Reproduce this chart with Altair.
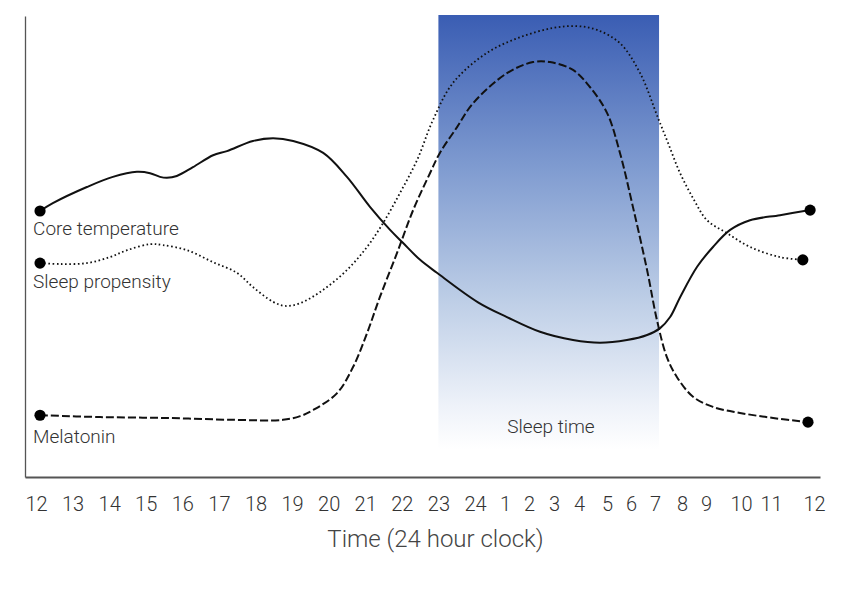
import altair as alt
import pandas as pd

# ---- data (hours since 12:00 noon, relative level 0-100) ----
core_hours = [0.11, 0.46, 1.39, 2.10, 2.76, 3.12, 3.39, 3.58, 3.85, 4.29, 4.84, 5.22, 5.93,
              6.48, 7.03, 7.85, 8.50, 9.13, 9.68, 10.03, 10.50, 10.96, 12.1, 13.08,
              14.44, 15.76, 16.75, 17.83, 18.67, 19.19, 19.56, 19.93, 20.63, 21.2, 21.69,
              22.3, 23.21, 23.91]
core_values = [57.7, 59.4, 62.9, 65.1, 66.2, 65.9, 65.1, 64.9, 65.3, 67.2, 69.8, 70.7, 72.9,
               73.5, 72.9, 70.3, 65.1, 58.6, 53.6, 50.8, 47.1, 44.3, 37.9, 34.7,
               31.5, 29.7, 29.1, 29.7, 30.8, 32.3, 34.7, 39.0, 45.6, 49.9, 53.6,
               55.7, 56.8, 57.9]

prop_hours = [0.11, 0.66, 1.39, 2.02, 2.49, 3.12, 3.47, 4.13, 4.84, 5.49, 5.93, 6.48, 6.81,
              7.22, 7.85, 8.50, 9.05, 9.49, 9.95, 10.42, 10.85, 11.40, 12.4, 13.63, 14.96,
              15.92, 16.64, 17.54, 18.38, 19.11, 19.48, 19.93, 20.5, 21.03, 21.6, 22.3,
              23.21, 23.74]
prop_values = [46.4, 46.2, 46.4, 47.7, 49.2, 50.5, 50.3, 49.2, 46.6, 44.3, 41.2, 38.0, 37.1,
               37.7, 40.6, 44.9, 49.9, 55.1, 61.6, 68.8, 77.4, 85.5, 92.0, 95.4, 97.4,
               97.8, 97.0, 94.1, 87.6, 77.9, 72.5, 65.9, 60.1, 55.7, 52.9, 49.9,
               47.7, 47.1]

mel_hours = [0.11, 1.75, 3.58, 5.39, 6.75, 7.22, 7.57, 8.23, 8.67, 9.05, 9.40, 9.87, 10.31,
             10.77, 11.04, 11.51, 11.95, 13.08, 14.16, 14.84, 15.76, 16.39, 17.0, 17.54,
             18.08, 18.67, 19.07, 19.44, 19.81, 20.46, 21.2, 21.97, 23.05, 23.86]
mel_values = [13.4, 13.0, 12.8, 12.4, 12.4, 13.2, 14.5, 18.2, 23.9, 31.2, 39.0, 48.6, 57.9,
              65.9, 70.3, 75.9, 81.1, 87.6, 90.0, 90.0, 88.3, 84.6, 79.0, 70.3,
              58.6, 44.9, 34.1, 26.0, 21.7, 17.4, 15.2, 13.9, 12.8, 11.9]

series_names = ["Core temperature", "Sleep propensity", "Melatonin"]
label_hour = [-0.08, -0.08, -0.08]
label_values = [52.5, 41.0, 7.4]

sleep_start = [11.0]
sleep_end = [19.15]
sleep_top = [100.2]
sleep_bottom = [6.0]
sleep_label = ["Sleep time"]
sleep_label_hour = [14.88]
sleep_label_value = [9.5]

tick_hours = list(range(25))
x_title = "Time (24 hour clock)"

# ---- tables ----
rows = []
for name, hs, vs in zip(series_names,
                        [core_hours, prop_hours, mel_hours],
                        [core_values, prop_values, mel_values]):
    for i, (h, v) in enumerate(zip(hs, vs)):
        rows.append({"series": name, "hour": h, "value": v, "order": i,
                     "end": i == 0 or i == len(hs) - 1})
lines_df = pd.DataFrame(rows)
dots_df = lines_df[lines_df["end"]]
labels_df = pd.DataFrame({"series": series_names, "hour": label_hour, "value": label_values})
sleep_df = pd.DataFrame({"start": sleep_start, "end": sleep_end,
                         "top": sleep_top, "bottom": sleep_bottom})
sleep_text_df = pd.DataFrame({"text": sleep_label, "hour": sleep_label_hour,
                              "value": sleep_label_value})

FONT = "Roboto"

# irregular hand-drawn clock axis -> piecewise linear scale
x_scale = alt.Scale(
    domain=[-0.3007] + tick_hours + [24.14],
    range=[0, 11, 47.6, 84.2, 120.7, 157.3, 193.9, 230.5, 267.1, 303.7, 340.2, 376.8,
           413.4, 450, 480, 504, 529, 554, 582, 606, 630, 657, 681, 716, 746, 789, 795],
    nice=False, zero=False,
)
y_scale = alt.Scale(domain=[0, 100], nice=False, zero=False)

x_axis = alt.Axis(
    values=tick_hours,
    labelExpr="datum.value <= 12 ? datum.value + 12 : datum.value - 12",
    ticks=False, tickSize=0, grid=False, labelPadding=17,
    labelFont=FONT, labelFontSize=20, labelFontWeight=300, labelColor="#333333",
    labelOverlap=False, labelFlush=False,
    domainColor="#555555", domainWidth=2,
    title=x_title, titleFont=FONT, titleFontSize=24, titleFontWeight=300,
    titleColor="#444444", titlePadding=13, titleX=410,
)
y_axis = alt.Axis(labels=False, ticks=False, grid=False, title=None,
                  domainColor="#555555", domainWidth=1.3)

X = alt.X("hour:Q", scale=x_scale, axis=x_axis)
Y = alt.Y("value:Q", scale=y_scale, axis=y_axis)

gradient = alt.LinearGradient(
    gradient="linear", x1=0, x2=0, y1=0, y2=1,
    stops=[
        alt.GradientStop(color="#3a5db3", offset=0),
        alt.GradientStop(color="#7f9bd0", offset=0.35),
        alt.GradientStop(color="#bccde6", offset=0.65),
        alt.GradientStop(color="#eef2f9", offset=0.9),
        alt.GradientStop(color="#ffffff", offset=1),
    ],
)

rect = alt.Chart(sleep_df).mark_rect(fill=gradient).encode(
    x=alt.X("start:Q", scale=x_scale, axis=x_axis), x2="end:Q",
    y=alt.Y("top:Q", scale=y_scale, axis=y_axis), y2="bottom:Q",
)

sleep_text = alt.Chart(sleep_text_df).mark_text(
    font=FONT, fontSize=19, fontWeight=300, color="#333333", align="center",
    baseline="alphabetic",
).encode(x=X, y=Y, text="text:N")


def line(name, dash, width):
    kw = {"strokeDash": dash} if dash else {}
    return alt.Chart(lines_df).transform_filter(
        alt.datum.series == name
    ).mark_line(color="#111111", strokeWidth=width, interpolate="catmull-rom", **kw).encode(
        x=X, y=Y, order="order:Q"
    )


core_line = line("Core temperature", None, 2)
prop_line = line("Sleep propensity", [1.6, 2.6], 1.8)
mel_line = line("Melatonin", [8, 3], 2)

dots = alt.Chart(dots_df).mark_circle(color="#000000", size=125, opacity=1).encode(x=X, y=Y)

labels = alt.Chart(labels_df).mark_text(
    font=FONT, fontSize=19, fontWeight=300, color="#333333", align="left",
    baseline="alphabetic",
).encode(x=X, y=Y, text="series:N")

chart = alt.layer(rect, sleep_text, core_line, prop_line, mel_line, dots, labels).properties(
    width=795, height=461,
    padding={"left": 25, "top": 16, "right": 30, "bottom": 124},
    autosize=alt.AutoSizeParams(type="none"),
    background="#ffffff",
).configure_view(stroke=None)

chart.save("out.html", embed_options={"renderer": "svg", "actions": False})
